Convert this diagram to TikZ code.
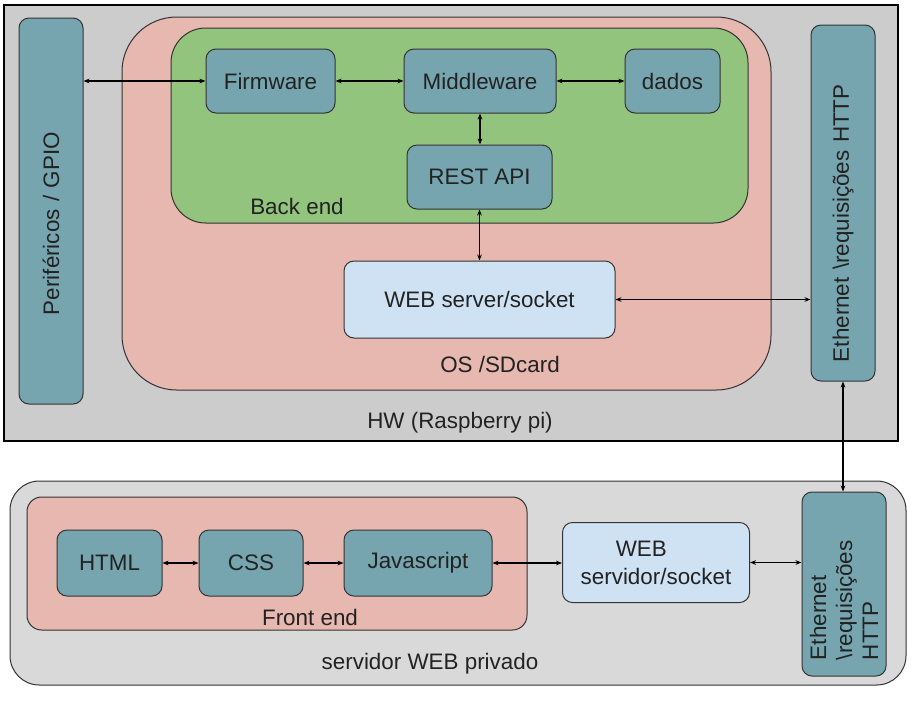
\documentclass[tikz,border=0pt]{standalone}
\usepackage{fontspec}
\setmainfont{Liberation Sans}
\usetikzlibrary{arrows.meta,calc}
\definecolor{hwgray}{HTML}{CCCCCC}
\definecolor{srvgray}{HTML}{D9D9D9}
\definecolor{pinkc}{HTML}{E6B8AF}
\definecolor{greenc}{HTML}{93C47D}
\definecolor{tealc}{HTML}{76A5AF}
\definecolor{bluec}{HTML}{CFE2F3}
\definecolor{linec}{HTML}{333333}
\definecolor{textc}{HTML}{222222}
\tikzset{
  every node/.style={font=\fontsize{16.8}{19.5}\selectfont, text=textc},
  region/.style={draw=linec, line width=0.75pt, inner sep=0pt},
  tealbox/.style={draw=linec, line width=0.75pt, fill=tealc, rounded corners=7.5pt, inner sep=0pt, align=center},
  bluebox/.style={draw=linec, line width=0.75pt, fill=bluec, rounded corners=7.5pt, inner sep=0pt, align=center},
  plainlabel/.style={inner sep=0pt},
  biarrow/.style={{Stealth[length=4.5pt,width=3.5pt]}-{Stealth[length=4.5pt,width=3.5pt]}, line width=0.8pt, draw=black},
}
\begin{document}
\begin{tikzpicture}[x=0.75pt,y=-0.75pt]
\useasboundingbox (0,0) rectangle (913,708);
% ---------- HW (Raspberry pi) ----------
\node[region, fill=hwgray, draw=black, line width=1pt, minimum width=670.5pt, minimum height=327pt] (hw) at (451,223) {};
\node[region, fill=pinkc, rounded corners=41pt, minimum width=486.75pt, minimum height=279.75pt] (os) at (446.5,203.5) {};
\node[region, fill=greenc, rounded corners=26pt, minimum width=432.75pt, minimum height=146.25pt] (be) at (459.5,125.5) {};
\node[plainlabel] (hwlbl) at (460,423) {HW (Raspberry pi)};
\node[plainlabel] (oslbl) at (500,364) {OS /SDcard};
\node[plainlabel] (belbl) at (297,206) {Back end};

\node[tealbox, rotate=90, align=left, text width=156pt, inner xsep=66.75pt, minimum height=48pt] (per) at (51,211) {Periféricos / GPIO};
\node[tealbox, minimum width=96.75pt, minimum height=48pt] (fw) at (270.5,81) {Firmware};
\node[tealbox, minimum width=114pt, minimum height=48pt] (mw) at (480,81) {Middleware};
\node[tealbox, minimum width=71.25pt, minimum height=48pt] (dados) at (672.5,81) {dados};
\node[tealbox, minimum width=108.75pt, minimum height=48pt] (rest) at (479.5,177) {REST API};
\node[bluebox, minimum width=203.25pt, minimum height=57.75pt] (web) at (479.5,299.5) {WEB server/socket};
\node[tealbox, rotate=90, align=left, text width=238.5pt, inner xsep=14.25pt, minimum height=48pt] (eth1) at (843,203) {Ethernet \textbackslash requisições HTTP};

% ---------- servidor WEB privado ----------
\node[region, fill=srvgray, rounded corners=22pt, minimum width=672pt, minimum height=153pt] (srv) at (458,583) {};
\node[region, fill=pinkc, rounded corners=11pt, minimum width=375pt, minimum height=99.75pt] (fe) at (277,563.5) {};
\node[plainlabel] (felbl) at (310,617) {Front end};
\node[plainlabel] (srvlbl) at (430,664) {servidor WEB privado};

\node[tealbox, minimum width=78.75pt, minimum height=49.5pt] (html) at (109.5,563) {HTML};
\node[tealbox, minimum width=78pt, minimum height=49.5pt] (css) at (251,563) {CSS};
\node[tealbox, minimum width=111pt, minimum height=49.5pt] (js) at (418,563) {Javascript};
\node[bluebox, minimum width=140.25pt, minimum height=60pt, font=\fontsize{16.8}{21}\selectfont] (webs) at (656,562.5) {WEB\hspace*{22pt}\\servidor/socket};
\node[tealbox, rotate=90, align=left, text width=114pt, inner xsep=12pt, minimum height=63pt] (eth2) at (844,584) {Ethernet\\\textbackslash requisições\\HTTP};

% ---------- connectors ----------
\draw[biarrow] (per.south |- fw.west) -- (fw.west);
\draw[biarrow] (fw.east) -- (mw.west);
\draw[biarrow] (mw.east) -- (dados.west);
\draw[biarrow] (mw.south) -- (mw.south |- rest.north);
\draw[biarrow] (rest.south) -- (rest.south |- web.north);
\draw[biarrow] (web.east) -- (web.east -| eth1.north);
\draw[biarrow] (eth1.west) -- (eth1.west |- eth2.east);
\draw[biarrow] (html.east) -- (css.west);
\draw[biarrow] (css.east) -- (js.west);
\draw[biarrow] (js.east) -- (js.east -| webs.west);
\draw[biarrow] (webs.east) -- (webs.east -| eth2.north);
\end{tikzpicture}
\end{document}
